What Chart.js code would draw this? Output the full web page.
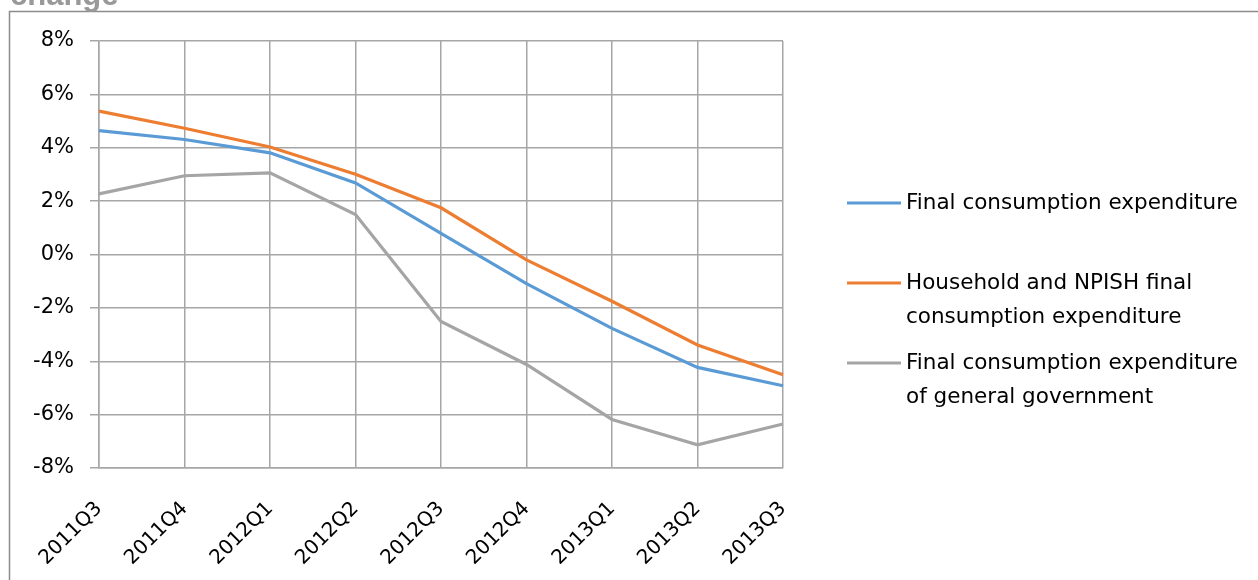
<!DOCTYPE html>
<html>
<head>
<meta charset="utf-8">
<script src="https://cdn.jsdelivr.net/npm/chart.js@4/dist/chart.umd.min.js"></script>
<style>
  html, body { margin: 0; padding: 0; background: #fff; }
  #wrap { position: relative; width: 1258px; height: 580px; }
</style>
</head>
<body>
<div id="wrap"><canvas id="c" width="1258" height="580"></canvas></div>
<script>
// Quarters on the horizontal axis
const quarters = ['2011Q3', '2011Q4', '2012Q1', '2012Q2', '2012Q3', '2012Q4', '2013Q1', '2013Q2', '2013Q3'];

// Year-on-year change, per cent
const finalConsumption = [4.64, 4.31, 3.81, 2.68, 0.79, -1.09, -2.77, -4.23, -4.92];
const householdNpish = [5.37, 4.73, 4.03, 3.01, 1.75, -0.2, -1.75, -3.39, -4.51];
const generalGovernment = [2.27, 2.95, 3.06, 1.5, -2.51, -4.12, -6.18, -7.13, -6.35];

// Series names, split the way they are wrapped in the legend
const seriesNames = [
  ['Final consumption expenditure'],
  ['Household and NPISH final', 'consumption expenditure'],
  ['Final consumption expenditure', 'of general government']
];

const yTicks = [-8, -6, -4, -2, 0, 2, 4, 6, 8];
const titleText = 'change';

const colors = ['#5B9BD5', '#ED7D31', '#A5A5A5'];
const gridColor = '#a6a6a6';
const FONT = 'DejaVu Sans';
const Y_TICK_SIZE = 21;
const X_TICK_SIZE = 20;
const LEGEND_SIZE = 21.5;

// Frame, clipped title and side legend
const decorations = {
  id: 'decorations',
  beforeDraw(chart) {
    const ctx = chart.ctx;
    ctx.save();
    ctx.fillStyle = '#fff';
    ctx.fillRect(0, 0, chart.width, chart.height);
    ctx.strokeStyle = '#8c8c8c';
    ctx.lineWidth = 1.5;
    ctx.beginPath();
    ctx.moveTo(9.5, chart.height + 2);
    ctx.lineTo(9.5, 11.5);
    ctx.lineTo(chart.width + 2, 11.5);
    ctx.stroke();
    ctx.fillStyle = '#999999';
    ctx.font = 'bold 31px "Liberation Sans"';
    ctx.textBaseline = 'alphabetic';
    ctx.textAlign = 'left';
    ctx.fillText(titleText, 10, 5);
    ctx.restore();
  },
  afterDraw(chart) {
    const ctx = chart.ctx;
    const rowTops = [203, 283, 363];
    const lineGap = 34;
    ctx.save();
    ctx.font = LEGEND_SIZE + 'px "' + FONT + '"';
    ctx.textBaseline = 'middle';
    ctx.textAlign = 'left';
    chart.data.datasets.forEach((ds, i) => {
      const y = rowTops[i];
      ctx.strokeStyle = ds.borderColor;
      ctx.lineWidth = 3;
      ctx.beginPath();
      ctx.moveTo(847, y);
      ctx.lineTo(901, y);
      ctx.stroke();
      ctx.fillStyle = '#000';
      seriesNames[i].forEach((line, k) => ctx.fillText(line, 906, y + k * lineGap));
    });
    ctx.restore();
  }
};

new Chart(document.getElementById('c'), {
  type: 'line',
  data: {
    labels: quarters,
    datasets: [
      { label: seriesNames[0].join(' '), data: finalConsumption, borderColor: colors[0] },
      { label: seriesNames[1].join(' '), data: householdNpish, borderColor: colors[1] },
      { label: seriesNames[2].join(' '), data: generalGovernment, borderColor: colors[2] }
    ].map(d => Object.assign(d, {
      backgroundColor: d.borderColor,
      borderWidth: 3.2,
      pointRadius: 0,
      tension: 0,
      fill: false
    }))
  },
  options: {
    responsive: false,
    animation: false,
    events: [],
    layout: { padding: { left: 0, top: 41, right: 1258 - 783, bottom: 0 } },
    plugins: {
      legend: { display: false },
      title: { display: false },
      tooltip: { enabled: false }
    },
    scales: {
      x: {
        offset: false,
        grid: { color: gridColor, lineWidth: 1.5, tickLength: 0, drawTicks: false },
        border: { color: gridColor, width: 1.5 },
        ticks: {
          color: '#000',
          font: { family: FONT, size: X_TICK_SIZE },
          minRotation: 45,
          maxRotation: 45,
          padding: 29,
          autoSkip: false
        },
        afterFit(scale) { scale.height = 580 - 468; }
      },
      y: {
        min: yTicks[0],
        max: yTicks[yTicks.length - 1],
        afterBuildTicks(scale) { scale.ticks = yTicks.map(v => ({ value: v })); },
        grid: { color: gridColor, lineWidth: 1.5, tickLength: 9 },
        border: { color: gridColor, width: 1.5 },
        ticks: {
          color: '#000',
          font: { family: FONT, size: Y_TICK_SIZE },
          padding: 16,
          callback: v => v + '%'
        },
        afterFit(scale) { scale.width = 99; }
      }
    }
  },
  plugins: [decorations]
});
</script>
</body>
</html>
